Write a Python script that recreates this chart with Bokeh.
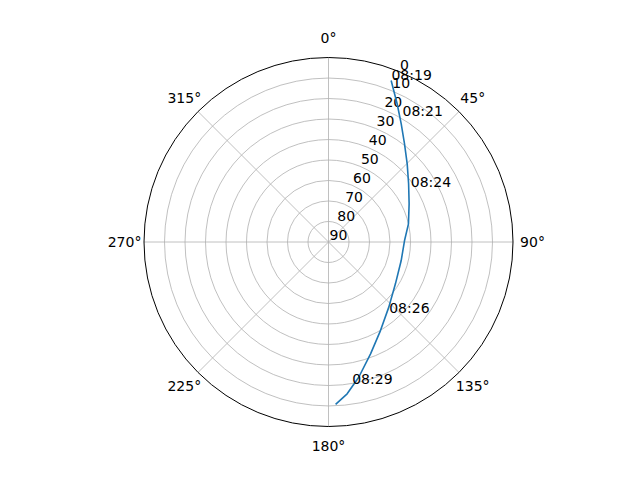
import numpy as np
from bokeh.plotting import figure
from bokeh.embed import file_html
from bokeh.resources import INLINE
from bokeh.core.properties import value

# satellite pass: azimuth (deg, clockwise from north) and elevation (deg)
pass_az = [21.2, 26.4, 31.6, 37.7, 45.2, 54.0, 64.7, 77.2, 88.9, 104.3, 122.0,
           137.2, 149.6, 159.4, 167.4, 173.0, 177.5]
pass_el = [5.5, 14.7, 22.3, 29.4, 35.9, 41.7, 46.5, 50.0, 52.9, 53.4, 51.5,
           46.7, 39.9, 31.7, 22.4, 15.4, 10.7]
# time-stamped points along the pass
time_labels = ["08:19", "08:21", "08:24", "08:26", "08:29"]
time_az = [20.9, 30.0, 56.0, 140.0, 170.9]
time_el = [5.3, 18.8, 42.2, 44.7, 20.0]

ring_elev = [0, 10, 20, 30, 40, 50, 60, 70, 80, 90]
spoke_deg = [0, 45, 90, 135, 180, 225, 270, 315]
spoke_labels = ["0°", "45°", "90°", "135°", "180°", "225°", "270°", "315°"]

def to_xy(az, el):
    az = np.radians(np.asarray(az, dtype=float))
    r = 90.0 - np.asarray(el, dtype=float)
    return r * np.sin(az), r * np.cos(az)

W, H = 624, 464
cx, cy = 328.0, 241.5
R = 184.5
u = 90.0 / R
p = figure(width=W, height=H, output_backend="svg", toolbar_location=None,
           x_range=(-cx * u, (W - cx) * u), y_range=(-(H - cy) * u, cy * u),
           min_border=0)
p.axis.visible = False
p.grid.visible = False
p.outline_line_color = None
p.background_fill_color = "white"

FONT = value("DejaVu Sans")
FS = "14px"

# rings
radii = [90 - e for e in ring_elev if e not in (0, 90)]
p.circle(x=[0] * len(radii), y=[0] * len(radii), radius=radii,
         fill_color=None, line_color="#b0b0b0", line_width=0.8)
# spokes
sa = np.radians(spoke_deg)
p.segment(x0=[0] * len(sa), y0=[0] * len(sa), x1=90 * np.sin(sa), y1=90 * np.cos(sa),
          line_color="#b0b0b0", line_width=0.8)
# outer spine
p.circle(x=[0], y=[0], radius=[90], fill_color=None, line_color="black", line_width=1.0)

# angular labels
lr = 99.5
p.text(x=lr * np.sin(sa), y=lr * np.cos(sa), text=spoke_labels,
       text_align="center", text_baseline="middle", text_font=FONT,
       text_font_size=FS, text_color="black")

# radial labels at 22.5 deg
la = np.radians(22.5)
rr = np.array([90 - e for e in ring_elev], dtype=float)
p.text(x=rr * np.sin(la), y=rr * np.cos(la), text=[str(e) for e in ring_elev],
       text_align="left", text_baseline="alphabetic", x_offset=1, y_offset=-7,
       text_font=FONT, text_font_size=FS, text_color="black")

# pass curve
px, py = to_xy(pass_az, pass_el)
p.line(px, py, line_color="#1f77b4", line_width=1.6)

# time labels
lx, ly = to_xy(time_az, time_el)
p.text(x=lx, y=ly, text=time_labels, text_align="left", text_baseline="alphabetic",
       x_offset=1, y_offset=-5,
       text_font=FONT, text_font_size=FS, text_color="black")

open("out.html", "w").write(file_html(p, INLINE))
